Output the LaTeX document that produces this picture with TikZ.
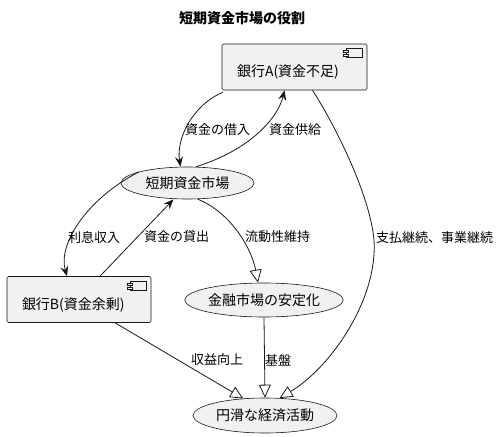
\documentclass[tikz,border=0pt]{standalone}
\usepackage{fontspec}
\setmainfont{Noto Sans CJK JP}
\usetikzlibrary{arrows.meta,shapes.geometric}
\definecolor{nodefill}{HTML}{F1F1F1}
\definecolor{linec}{HTML}{181818}
\newcommand{\ctext}[1]{\raisebox{-5pt}[\height][\depth]{#1}}
\tikzset{
  comp/.style={draw=linec, fill=nodefill, rounded corners=1.5pt, line width=0.6pt,
    minimum height=46pt, inner xsep=15pt, align=left, font=\fontsize{14}{16}\selectfont},
  uc/.style={ellipse, draw=linec, fill=nodefill, line width=0.6pt, inner sep=0pt,
    font=\fontsize{14}{16}\selectfont},
  conn/.style={draw=linec, line width=0.8pt},
  arr/.style={conn, -{Stealth[length=10pt, width=8pt, inset=3.5pt]}},
  tri/.style={conn, -{Triangle[open, length=13pt, width=12pt, fill=white]}},
  lbl/.style={font=\fontsize{13}{15}\selectfont, inner sep=0pt, anchor=west},
  compicon/.style={draw=linec, line width=0.5pt, fill=nodefill}
}
\begin{document}
\begin{tikzpicture}[x=1pt, y=-1pt]
\useasboundingbox (0,0) rectangle (499,437);
\node[font=\fontsize{14}{16}\selectfont\bfseries] (title) at (242,18) {短期資金市場の役割};

\node[comp, text width=115pt] (A) at (294.5,67) {\ctext{銀行A(資金不足)}};
\node[comp, text width=114pt] (B) at (79,299.5) {\ctext{銀行B(資金余剰)}};
\node[uc, minimum width=133pt, minimum height=32pt] (M) at (187.5,183) {短期資金市場};
\node[uc, minimum width=156pt, minimum height=34pt] (S) at (264,300) {金融市場の安定化};
\node[uc, minimum width=144pt, minimum height=35pt] (E) at (265,415.5) {円滑な経済活動};

% component icons
\foreach \n in {A,B}{
  \draw[compicon] ([xshift=-21pt,yshift=-5pt]\n.north east) rectangle ([xshift=-5pt,yshift=-14pt]\n.north east);
  \draw[compicon] ([xshift=-24pt,yshift=-7pt]\n.north east) rectangle ([xshift=-19pt,yshift=-9pt]\n.north east);
  \draw[compicon] ([xshift=-24pt,yshift=-11pt]\n.north east) rectangle ([xshift=-19pt,yshift=-13pt]\n.north east);
}

% connectors
\draw[arr] ([xshift=1pt,yshift=-2pt]A.south west) .. controls (193,105) and (176,138) .. ([xshift=-7pt]M.north);
\node[lbl] (l1) at (185,130) {資金の借入};

\draw[arr] (M.63) .. controls (250,150) and (278,118) .. ([xshift=-10pt]A.south);
\node[lbl] (l2) at (269,130) {資金供給};

\draw[arr] (M.167) .. controls (85,200) and (58,245) .. ([xshift=-12pt]B.north);
\node[lbl] (l3) at (68,237) {利息収入};

\draw[arr] ([xshift=21pt]B.north) -- ([xshift=-14pt]M.south);
\node[lbl] (l4) at (144,237) {資金の貸出};

\draw[tri] (M.-58) .. controls (232,213) and (252,250) .. ([xshift=-6pt]S.north);
\node[lbl] (l5) at (245,237) {流動性維持};

\draw[tri] ([xshift=18pt]A.south) .. controls (335,125) and (370,195) .. (374,240)
  .. controls (378,300) and (330,368) .. (E.50);
\node[lbl] (l6) at (376,238) {支払継続、事業継続};

\draw[tri] ([xshift=36pt]B.south) -- (E.142);
\node[lbl] (l7) at (191,360) {収益向上};

\draw[tri] (S.south) -- (E.north);
\node[lbl] (l8) at (265,360) {基盤};
\end{tikzpicture}
\end{document}
